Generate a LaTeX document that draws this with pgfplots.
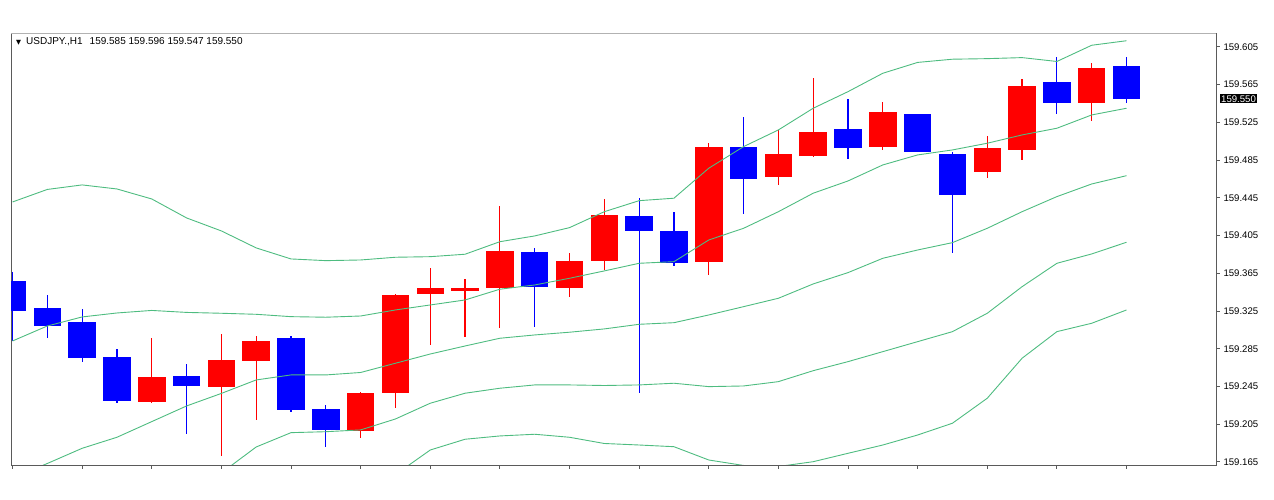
\documentclass[border=0pt]{standalone}
\usepackage{pgfplots}
\pgfplotsset{compat=1.18}
\usepackage{pgfplotstable}
\usepackage{fontspec}
\setmainfont{Liberation Sans}
\newfontfamily\symfont{DejaVu Sans}
\definecolor{bandgreen}{RGB}{78,188,128}
\definecolor{bullred}{RGB}{255,0,0}
\definecolor{bearblue}{RGB}{0,0,255}
\definecolor{framegray}{RGB}{90,90,90}

% bullish candles (close > open), drawn red
\pgfplotstableread{
x O H L C
4 159.230 159.298 159.229 159.256
6 159.245 159.301 159.172 159.274
7 159.273 159.299 159.210 159.294
10 159.199 159.240 159.191 159.239
11 159.239 159.344 159.223 159.343
12 159.344 159.372 159.290 159.350
13 159.347 159.359 159.297 159.350
14 159.349 159.437 159.308 159.389
16 159.350 159.387 159.340 159.379
17 159.379 159.444 159.369 159.428
20 159.377 159.504 159.364 159.499
22 159.468 159.518 159.460 159.492
23 159.490 159.573 159.489 159.516
25 159.499 159.547 159.496 159.536
28 159.472 159.511 159.466 159.498
29 159.498 159.571 159.485 159.566
31 159.546 159.588 159.527 159.583
}\bull

% bearish candles (close < open), drawn blue
\pgfplotstableread{
x O H L C
0 159.358 159.368 159.295 159.327
1 159.329 159.342 159.296 159.310
2 159.314 159.328 159.272 159.276
3 159.277 159.285 159.228 159.230
5 159.257 159.270 159.196 159.246
8 159.296 159.298 159.218 159.220
9 159.222 159.225 159.181 159.200
15 159.388 159.394 159.310 159.351
18 159.426 159.445 159.238 159.410
19 159.411 159.430 159.373 159.377
21 159.500 159.531 159.428 159.466
24 159.518 159.551 159.488 159.498
26 159.535 159.535 159.495 159.495
27 159.493 159.496 159.388 159.449
30 159.568 159.596 159.535 159.546
32 159.585 159.596 159.547 159.550
}\bear

% band lines (upper 2, upper 1, middle, lower 1, lower 2)
\pgfplotstableread{
x A B M D E
0 159.4406 159.2932 159.1479 159.0027 158.8574
1 159.4539 159.3091 159.1633 159.0175 158.8717
2 159.4587 159.3187 159.1794 159.0402 158.9010
3 159.4544 159.3229 159.1911 159.0593 158.9275
4 159.4438 159.3256 159.2077 159.0897 158.9718
5 159.4237 159.3235 159.2243 159.1251 159.0260
6 159.4099 159.3226 159.2376 159.1533 159.0689
7 159.3919 159.3215 159.2519 159.1808 159.1098
8 159.3802 159.3190 159.2572 159.1960 159.1348
9 159.3784 159.3184 159.2572 159.1970 159.1369
10 159.3791 159.3197 159.2598 159.1989 159.1379
11 159.3820 159.3261 159.2696 159.2105 159.1515
12 159.3826 159.3314 159.2794 159.2272 159.1776
13 159.3852 159.3367 159.2879 159.2378 159.1890
14 159.3985 159.3481 159.2961 159.2431 159.1925
15 159.4046 159.3526 159.2996 159.2466 159.1943
16 159.4134 159.3597 159.3025 159.2466 159.1911
17 159.4303 159.3675 159.3060 159.2460 159.1845
18 159.4420 159.3756 159.3109 159.2466 159.1829
19 159.4446 159.3773 159.3126 159.2484 159.1811
20 159.4764 159.4003 159.3208 159.2448 159.1670
21 159.4993 159.4127 159.3296 159.2455 159.1612
22 159.5170 159.4303 159.3385 159.2501 159.1601
23 159.5400 159.4499 159.3537 159.2617 159.1652
24 159.5576 159.4629 159.3657 159.2713 159.1741
25 159.5771 159.4799 159.3809 159.2819 159.1829
26 159.5886 159.4905 159.3897 159.2925 159.1935
27 159.5920 159.4958 159.3975 159.3031 159.2060
28 159.5926 159.5029 159.4127 159.3226 159.2325
29 159.5937 159.5117 159.4303 159.3508 159.2749
30 159.5896 159.5188 159.4463 159.3756 159.3031
31 159.6068 159.5329 159.4597 159.3855 159.3120
32 159.6116 159.5400 159.4685 159.3979 159.3261
}\bands

\begin{document}
\begin{tikzpicture}
\path[use as bounding box] (-11pt,-35pt) rectangle (1263pt,465pt);
\begin{axis}[
  at={(0pt,0pt)}, anchor=south west,
  scale only axis, width=1205pt, height=432pt,
  xmin=-0.043, xmax=34.57, ymin=159.1617, ymax=159.6198,
  axis line style={framegray, line width=0.9pt},
  xtick={0,2,...,32}, xticklabels={}, xtick pos=left,
  ytick={159.165,159.205,159.245,159.285,159.325,159.365,159.405,159.445,159.485,159.525,159.565,159.605},
  ytick pos=right, yticklabel pos=right,
  scaled y ticks=false,
  tick align=outside, major tick length=4pt,
  tick style={framegray, line width=0.9pt},
  yticklabel style={font=\fontsize{9.6}{10}\selectfont, anchor=west, xshift=0pt,
    /pgf/number format/fixed, /pgf/number format/fixed zerofill,
    /pgf/number format/precision=3, /pgf/number format/1000 sep={},
    /pgf/number format/assume math mode=true},
]
% wicks
\addplot[draw=none, mark=none, forget plot,
  error bars/.cd, y dir=both, y explicit, error mark=none,
  error bar style={draw=bullred, line width=1.2pt}]
  table[x=x, y expr={(\thisrow{H}+\thisrow{L})/2}, y error expr={(\thisrow{H}-\thisrow{L})/2}] {\bull};
\addplot[draw=none, mark=none, forget plot,
  error bars/.cd, y dir=both, y explicit, error mark=none,
  error bar style={draw=bearblue, line width=1.2pt}]
  table[x=x, y expr={(\thisrow{H}+\thisrow{L})/2}, y error expr={(\thisrow{H}-\thisrow{L})/2}] {\bear};
% bodies
\addplot[draw=none, mark=none, forget plot,
  error bars/.cd, y dir=both, y explicit, error mark=none,
  error bar style={draw=bullred, line width=27.5pt}]
  table[x=x, y expr={(\thisrow{O}+\thisrow{C})/2}, y error expr={abs(\thisrow{C}-\thisrow{O})/2}] {\bull};
\addplot[draw=none, mark=none, forget plot,
  error bars/.cd, y dir=both, y explicit, error mark=none,
  error bar style={draw=bearblue, line width=27.5pt}]
  table[x=x, y expr={(\thisrow{O}+\thisrow{C})/2}, y error expr={abs(\thisrow{O}-\thisrow{C})/2}] {\bear};
% bands
\addplot[bandgreen, line width=0.9pt, mark=none] table[x=x, y=A] {\bands};
\addplot[bandgreen, line width=0.9pt, mark=none] table[x=x, y=B] {\bands};
\addplot[bandgreen, line width=0.9pt, mark=none] table[x=x, y=M] {\bands};
\addplot[bandgreen, line width=0.9pt, mark=none] table[x=x, y=D] {\bands};
\addplot[bandgreen, line width=0.9pt, mark=none] table[x=x, y=E] {\bands};
\coordinate (lastp) at (axis cs:34.57,159.550);
\coordinate (hdr) at (rel axis cs:0,1);
\end{axis}
\draw[black!30, line width=0.9pt] (0pt,432pt) -- (1205pt,432pt);
\node[anchor=base west, inner sep=0pt, font=\fontsize{10}{11}\selectfont]
  at ([xshift=5pt,yshift=-12pt]hdr)
  {{\symfont\fontsize{6.5}{7}\selectfont ▼}\hspace{5pt}USDJPY.,H1\hspace{7pt}159.585 159.596 159.547 159.550};
\node[anchor=west, fill=black, text=white, inner xsep=1.5pt, inner ysep=1.2pt,
  font=\fontsize{9.6}{10}\selectfont] at ([xshift=3.5pt]lastp) {159.550};
\end{tikzpicture}
\end{document}
